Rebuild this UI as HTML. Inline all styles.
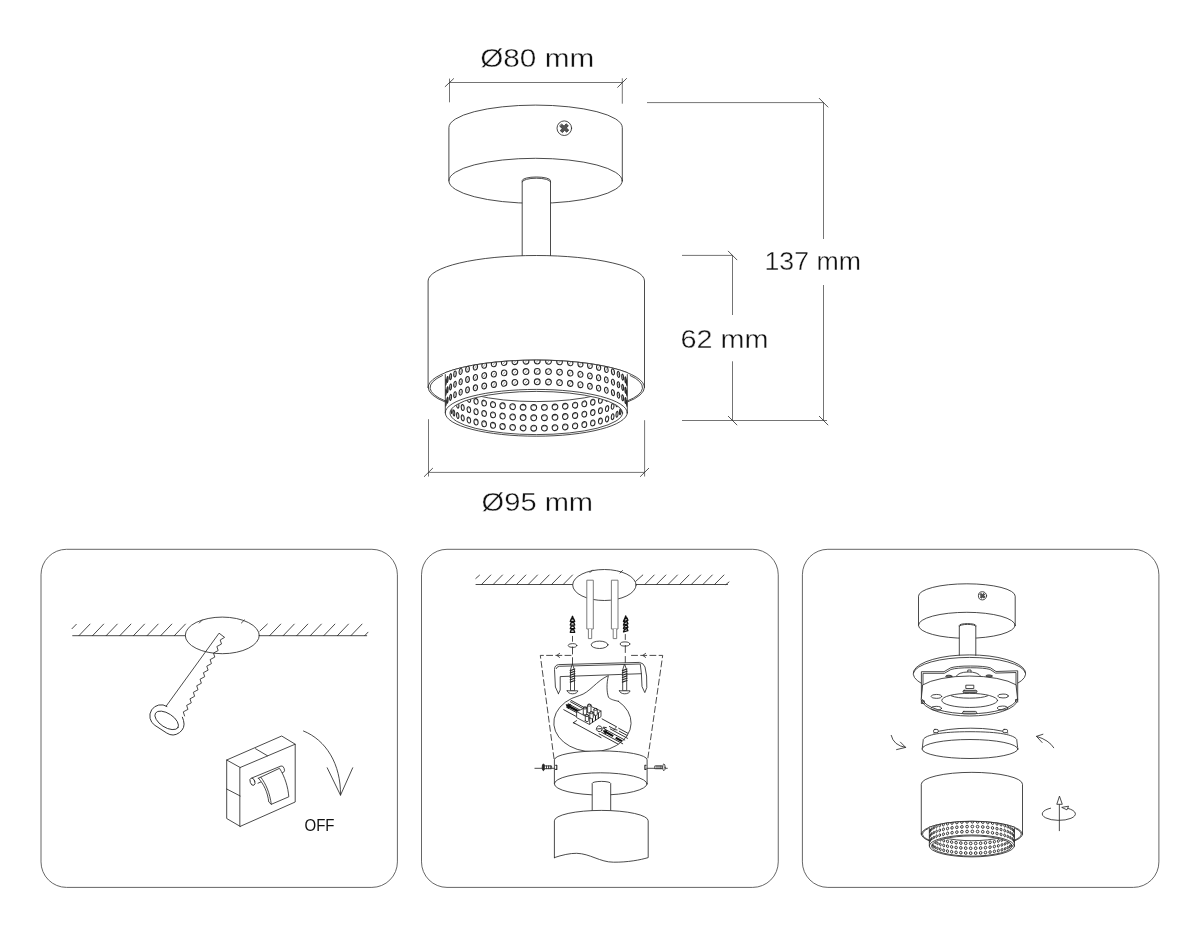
<!DOCTYPE html>
<html><head><meta charset="utf-8"><title>Lamp dimensions and installation</title>
<style>
html,body{margin:0;padding:0;background:#fff}
text{filter:grayscale(1)}
svg{display:block}
.l{fill:none;stroke:#2a2a2a;stroke-width:.85;stroke-linecap:round;stroke-linejoin:round}
.w{fill:#fff}
.h{fill:none;stroke:#2a2a2a}
.h circle{vector-effect:non-scaling-stroke}
.m{fill:none;stroke:#555;stroke-width:.5}
.k{fill:none;stroke:#111;stroke-width:1.35;stroke-linejoin:round}
.g{fill:#fff;stroke:#6e6e6e;stroke-width:.9}
.tk{fill:none;stroke:#2a2a2a;stroke-width:.8}
.d{fill:none;stroke:#505050;stroke-width:.8}
.p{fill:none;stroke:#555;stroke-width:.9}
.t{font-family:"Liberation Sans",sans-serif;fill:#111;stroke:#fff;stroke-width:.35}
.t2{font-family:"Liberation Sans",sans-serif;fill:#111}
</style></head><body>
<svg width="1200" height="933" viewBox="0 0 1200 933">
<rect width="1200" height="933" fill="#fff"/>
<path class="l w" d="M448.9,180.8L448.9,127.6A86.7,22.5 0 0 1 622.3,127.6L622.3,180.8"/>
<ellipse class="l" cx="535.6" cy="180.8" rx="86.7" ry="22.5"/>
<path class="l w" d="M522.2,255.6L522.2,180.6A14.15,3.6 0 0 1 550.5,180.6L550.5,255.6"/>
<path class="l" d="M522.2,181.8A14.15,3.6 0 0 1 550.5,181.8"/>
<circle class="l w" cx="564.3" cy="128.2" r="7.3"/>
<g transform="translate(564.3,128.2) rotate(40)"><path class="l" style="stroke-width:.7;fill:#555" d="M-4.53,-1.46L-1.46,-1.46L-1.46,-4.53L1.46,-4.53L1.46,-1.46L4.53,-1.46L4.53,1.46L1.46,1.46L1.46,4.53L-1.46,4.53L-1.46,1.46L-4.53,1.46Z"/></g>
<path class="l w" d="M428.1,387.3L428.1,281A108.2,25.5 0 0 1 644.5,281L644.5,387.3"/>
<path class="l" d="M428.1,387.3A108.2,27.3 0 0 1 644.5,387.3"/>
<path class="l" d="M428.1,387.3A108.2,27.3 0 0 0 445.3,402.07M644.5,387.3A108.2,27.3 0 0 1 627.3,402.07"/>
<path class="l" d="M442.43,375.5A106.4,25.7 0 0 0 445.3,400.92M630.17,375.5A106.4,25.7 0 0 1 627.3,400.92"/>
<path d="M445.3,372.53A108.2,27.3 0 0 1 627.3,372.53L627.3,412.8A91,23.4 0 0 1 445.3,412.8Z" fill="#fff" stroke="none"/>
<path class="l" d="M445.3,372.53A108.2,27.3 0 0 1 627.3,372.53"/>
<path class="l" d="M445.3,374.53L445.3,412.8"/>
<path class="l" d="M627.3,374.53L627.3,412.8"/>
<ellipse class="l" cx="536.3" cy="412.8" rx="91" ry="23.4"/>
<ellipse class="l" cx="536.3" cy="413" rx="86.3" ry="21.6"/>
<clipPath id="cau"><path d="M445.3,372.53A108.2,27.3 0 0 1 627.3,372.53L627.3,412.8A91,23.4 0 0 0 445.3,412.8Z"/></clipPath>
<clipPath id="cai"><ellipse cx="536.3" cy="413" rx="85.9" ry="21.2"/></clipPath>
<clipPath id="cas"><path d="M448,380A86.3,21.6 0 0 0 622.6,380L624.6,380L624.6,439.6L448,439.6Z"/></clipPath>
<g clip-path="url(#cai)">
<path class="l" d="M450,380A86.3,21.6 0 0 0 622.6,380"/>
</g>
<g clip-path="url(#cau)" class="h" style="stroke-width:1.1">
<circle r="2.9" transform="matrix(0.22,-0.26,0,1,445.7,382.3)"/>
<circle r="2.9" transform="matrix(0.22,-0.25,0,1,447.46,379.44)"/>
<circle r="2.9" transform="matrix(0.34,-0.24,0,1,450.57,376.65)"/>
<path class="m" d="M450.14,378.25L451.06,375.2"/>
<circle r="2.9" transform="matrix(0.45,-0.23,0,1,455,373.99)"/>
<path class="m" d="M454.42,375.58L455.65,372.54"/>
<circle r="2.9" transform="matrix(0.56,-0.21,0,1,460.68,371.48)"/>
<path class="m" d="M459.95,373.08L461.49,370.03"/>
<circle r="2.9" transform="matrix(0.65,-0.19,0,1,467.52,369.18)"/>
<path class="m" d="M466.66,370.77L468.47,367.73"/>
<circle r="2.9" transform="matrix(0.74,-0.17,0,1,475.41,367.11)"/>
<path class="m" d="M474.44,368.71L476.49,365.66"/>
<circle r="2.9" transform="matrix(0.82,-0.15,0,1,484.23,365.31)"/>
<path class="m" d="M483.16,366.9L485.42,363.86"/>
<circle r="2.9" transform="matrix(0.88,-0.12,0,1,493.86,363.8)"/>
<path class="m" d="M492.7,365.4L495.14,362.35"/>
<circle r="2.9" transform="matrix(0.94,-0.09,0,1,504.13,362.61)"/>
<path class="m" d="M502.91,364.21L505.49,361.16"/>
<circle r="2.9" transform="matrix(0.97,-0.06,0,1,514.9,361.76)"/>
<path class="m" d="M513.63,363.35L516.31,360.31"/>
<circle r="2.9" transform="matrix(0.99,-0.03,0,1,526,361.25)"/>
<path class="m" d="M524.7,362.85L527.44,359.8"/>
<circle r="2.9" transform="matrix(1,0,0,1,537.25,361.1)"/>
<path class="m" d="M535.95,362.7L538.7,359.65"/>
<circle r="2.9" transform="matrix(0.99,0.03,0,1,548.49,361.31)"/>
<path class="m" d="M547.2,362.91L549.93,359.86"/>
<circle r="2.9" transform="matrix(0.97,0.07,0,1,559.55,361.88)"/>
<path class="m" d="M558.28,363.47L560.95,360.43"/>
<circle r="2.9" transform="matrix(0.93,0.1,0,1,570.24,362.79)"/>
<path class="m" d="M569.03,364.38L571.59,361.34"/>
<circle r="2.9" transform="matrix(0.87,0.12,0,1,580.42,364.03)"/>
<path class="m" d="M579.28,365.63L581.69,362.58"/>
<circle r="2.9" transform="matrix(0.81,0.15,0,1,589.92,365.59)"/>
<path class="m" d="M588.86,367.19L591.09,364.14"/>
<circle r="2.9" transform="matrix(0.73,0.18,0,1,598.59,367.44)"/>
<path class="m" d="M597.64,369.04L599.65,365.99"/>
<circle r="2.9" transform="matrix(0.64,0.2,0,1,606.32,369.55)"/>
<path class="m" d="M605.48,371.15L607.24,368.1"/>
<circle r="2.9" transform="matrix(0.54,0.22,0,1,612.96,371.89)"/>
<path class="m" d="M612.26,373.49L613.74,370.44"/>
<circle r="2.9" transform="matrix(0.43,0.23,0,1,618.44,374.43)"/>
<path class="m" d="M617.87,376.02L619.06,372.98"/>
<circle r="2.9" transform="matrix(0.32,0.24,0,1,622.65,377.11)"/>
<path class="m" d="M622.24,378.71L623.11,375.66"/>
<circle r="2.9" transform="matrix(0.22,0.25,0,1,625.54,379.91)"/>
<circle r="2.9" transform="matrix(0.22,0.26,0,1,627.06,382.79)"/>
<circle r="2.9" transform="matrix(0.22,-0.26,0,1,445.7,392.6)"/>
<circle r="2.9" transform="matrix(0.22,-0.25,0,1,447.46,389.74)"/>
<circle r="2.9" transform="matrix(0.34,-0.24,0,1,450.57,386.95)"/>
<path class="m" d="M450.14,388.55L451.06,385.5"/>
<circle r="2.9" transform="matrix(0.45,-0.23,0,1,455,384.29)"/>
<path class="m" d="M454.42,385.88L455.65,382.84"/>
<circle r="2.9" transform="matrix(0.56,-0.21,0,1,460.68,381.78)"/>
<path class="m" d="M459.95,383.38L461.49,380.33"/>
<circle r="2.9" transform="matrix(0.65,-0.19,0,1,467.52,379.48)"/>
<path class="m" d="M466.66,381.07L468.47,378.03"/>
<circle r="2.9" transform="matrix(0.74,-0.17,0,1,475.41,377.41)"/>
<path class="m" d="M474.44,379.01L476.49,375.96"/>
<circle r="2.9" transform="matrix(0.82,-0.15,0,1,484.23,375.61)"/>
<path class="m" d="M483.16,377.2L485.42,374.16"/>
<circle r="2.9" transform="matrix(0.88,-0.12,0,1,493.86,374.1)"/>
<path class="m" d="M492.7,375.7L495.14,372.65"/>
<circle r="2.9" transform="matrix(0.94,-0.09,0,1,504.13,372.91)"/>
<path class="m" d="M502.91,374.51L505.49,371.46"/>
<circle r="2.9" transform="matrix(0.97,-0.06,0,1,514.9,372.06)"/>
<path class="m" d="M513.63,373.65L516.31,370.61"/>
<circle r="2.9" transform="matrix(0.99,-0.03,0,1,526,371.55)"/>
<path class="m" d="M524.7,373.15L527.44,370.1"/>
<circle r="2.9" transform="matrix(1,0,0,1,537.25,371.4)"/>
<path class="m" d="M535.95,373L538.7,369.95"/>
<circle r="2.9" transform="matrix(0.99,0.03,0,1,548.49,371.61)"/>
<path class="m" d="M547.2,373.21L549.93,370.16"/>
<circle r="2.9" transform="matrix(0.97,0.07,0,1,559.55,372.18)"/>
<path class="m" d="M558.28,373.77L560.95,370.73"/>
<circle r="2.9" transform="matrix(0.93,0.1,0,1,570.24,373.09)"/>
<path class="m" d="M569.03,374.68L571.59,371.64"/>
<circle r="2.9" transform="matrix(0.87,0.12,0,1,580.42,374.33)"/>
<path class="m" d="M579.28,375.93L581.69,372.88"/>
<circle r="2.9" transform="matrix(0.81,0.15,0,1,589.92,375.89)"/>
<path class="m" d="M588.86,377.49L591.09,374.44"/>
<circle r="2.9" transform="matrix(0.73,0.18,0,1,598.59,377.74)"/>
<path class="m" d="M597.64,379.34L599.65,376.29"/>
<circle r="2.9" transform="matrix(0.64,0.2,0,1,606.32,379.85)"/>
<path class="m" d="M605.48,381.45L607.24,378.4"/>
<circle r="2.9" transform="matrix(0.54,0.22,0,1,612.96,382.19)"/>
<path class="m" d="M612.26,383.79L613.74,380.74"/>
<circle r="2.9" transform="matrix(0.43,0.23,0,1,618.44,384.73)"/>
<path class="m" d="M617.87,386.32L619.06,383.28"/>
<circle r="2.9" transform="matrix(0.32,0.24,0,1,622.65,387.41)"/>
<path class="m" d="M622.24,389.01L623.11,385.96"/>
<circle r="2.9" transform="matrix(0.22,0.25,0,1,625.54,390.21)"/>
<circle r="2.9" transform="matrix(0.22,0.26,0,1,627.06,393.09)"/>
<circle r="2.9" transform="matrix(0.22,-0.26,0,1,445.7,403)"/>
<circle r="2.9" transform="matrix(0.22,-0.25,0,1,447.46,400.14)"/>
<circle r="2.9" transform="matrix(0.34,-0.24,0,1,450.57,397.35)"/>
<path class="m" d="M450.14,398.95L451.06,395.9"/>
<circle r="2.9" transform="matrix(0.45,-0.23,0,1,455,394.69)"/>
<path class="m" d="M454.42,396.28L455.65,393.24"/>
<circle r="2.9" transform="matrix(0.56,-0.21,0,1,460.68,392.18)"/>
<path class="m" d="M459.95,393.78L461.49,390.73"/>
<circle r="2.9" transform="matrix(0.65,-0.19,0,1,467.52,389.88)"/>
<path class="m" d="M466.66,391.47L468.47,388.43"/>
<circle r="2.9" transform="matrix(0.74,-0.17,0,1,475.41,387.81)"/>
<path class="m" d="M474.44,389.41L476.49,386.36"/>
<circle r="2.9" transform="matrix(0.82,-0.15,0,1,484.23,386.01)"/>
<path class="m" d="M483.16,387.6L485.42,384.56"/>
<circle r="2.9" transform="matrix(0.88,-0.12,0,1,493.86,384.5)"/>
<path class="m" d="M492.7,386.1L495.14,383.05"/>
<circle r="2.9" transform="matrix(0.94,-0.09,0,1,504.13,383.31)"/>
<path class="m" d="M502.91,384.91L505.49,381.86"/>
<circle r="2.9" transform="matrix(0.97,-0.06,0,1,514.9,382.46)"/>
<path class="m" d="M513.63,384.05L516.31,381.01"/>
<circle r="2.9" transform="matrix(0.99,-0.03,0,1,526,381.95)"/>
<path class="m" d="M524.7,383.55L527.44,380.5"/>
<circle r="2.9" transform="matrix(1,0,0,1,537.25,381.8)"/>
<path class="m" d="M535.95,383.4L538.7,380.35"/>
<circle r="2.9" transform="matrix(0.99,0.03,0,1,548.49,382.01)"/>
<path class="m" d="M547.2,383.61L549.93,380.56"/>
<circle r="2.9" transform="matrix(0.97,0.07,0,1,559.55,382.58)"/>
<path class="m" d="M558.28,384.17L560.95,381.13"/>
<circle r="2.9" transform="matrix(0.93,0.1,0,1,570.24,383.49)"/>
<path class="m" d="M569.03,385.08L571.59,382.04"/>
<circle r="2.9" transform="matrix(0.87,0.12,0,1,580.42,384.73)"/>
<path class="m" d="M579.28,386.33L581.69,383.28"/>
<circle r="2.9" transform="matrix(0.81,0.15,0,1,589.92,386.29)"/>
<path class="m" d="M588.86,387.89L591.09,384.84"/>
<circle r="2.9" transform="matrix(0.73,0.18,0,1,598.59,388.14)"/>
<path class="m" d="M597.64,389.74L599.65,386.69"/>
<circle r="2.9" transform="matrix(0.64,0.2,0,1,606.32,390.25)"/>
<path class="m" d="M605.48,391.85L607.24,388.8"/>
<circle r="2.9" transform="matrix(0.54,0.22,0,1,612.96,392.59)"/>
<path class="m" d="M612.26,394.19L613.74,391.14"/>
<circle r="2.9" transform="matrix(0.43,0.23,0,1,618.44,395.13)"/>
<path class="m" d="M617.87,396.72L619.06,393.68"/>
<circle r="2.9" transform="matrix(0.32,0.24,0,1,622.65,397.81)"/>
<path class="m" d="M622.24,399.41L623.11,396.36"/>
<circle r="2.9" transform="matrix(0.22,0.25,0,1,625.54,400.61)"/>
<circle r="2.9" transform="matrix(0.22,0.26,0,1,627.06,403.49)"/>
</g>
<g clip-path="url(#cai)"><g clip-path="url(#cas)" class="h" style="stroke-width:1.1">
<circle r="2.9" transform="matrix(0.22,0.25,0,1,450.13,387.07)"/>
<circle r="2.9" transform="matrix(0.22,0.25,0,1,451.36,389.73)"/>
<circle r="2.9" transform="matrix(0.3,0.24,0,1,453.9,392.32)"/>
<path class="m" d="M453.39,391.45A0.6,2.03 0 0 1 454.34,391.02"/>
<circle r="2.9" transform="matrix(0.41,0.23,0,1,457.71,394.82)"/>
<path class="m" d="M456.99,393.95A0.84,2.03 0 0 1 458.31,393.52"/>
<circle r="2.9" transform="matrix(0.52,0.21,0,1,462.72,397.19)"/>
<path class="m" d="M461.81,396.32A1.06,2.03 0 0 1 463.47,395.88"/>
<circle r="2.9" transform="matrix(0.62,0.2,0,1,468.85,399.38)"/>
<path class="m" d="M467.77,398.51A1.27,2.03 0 0 1 469.76,398.07"/>
<circle r="2.9" transform="matrix(0.72,0.17,0,1,476.03,401.36)"/>
<path class="m" d="M474.78,400.49A1.45,2.03 0 0 1 477.06,400.05"/>
<circle r="2.9" transform="matrix(0.8,0.15,0,1,484.12,403.11)"/>
<path class="m" d="M482.74,402.24A1.62,2.03 0 0 1 485.28,401.8"/>
<circle r="2.9" transform="matrix(0.87,0.13,0,1,493.02,404.59)"/>
<path class="m" d="M491.51,403.72A1.76,2.03 0 0 1 494.27,403.28"/>
<circle r="2.9" transform="matrix(0.92,0.1,0,1,502.58,405.78)"/>
<path class="m" d="M500.98,404.91A1.87,2.03 0 0 1 503.91,404.48"/>
<circle r="2.9" transform="matrix(0.96,0.07,0,1,512.66,406.67)"/>
<path class="m" d="M510.98,405.8A1.95,2.03 0 0 1 514.05,405.37"/>
<circle r="2.9" transform="matrix(0.99,0.04,0,1,523.1,407.25)"/>
<path class="m" d="M521.38,406.38A2.01,2.03 0 0 1 524.53,405.94"/>
<circle r="2.9" transform="matrix(1,0.01,0,1,533.74,407.49)"/>
<path class="m" d="M532,406.62A2.03,2.03 0 0 1 535.19,406.19"/>
<circle r="2.9" transform="matrix(1,-0.02,0,1,544.42,407.4)"/>
<path class="m" d="M542.69,406.53A2.02,2.03 0 0 1 545.87,406.1"/>
<circle r="2.9" transform="matrix(0.98,-0.05,0,1,554.98,406.99)"/>
<path class="m" d="M553.28,406.12A1.98,2.03 0 0 1 556.39,405.68"/>
<circle r="2.9" transform="matrix(0.94,-0.08,0,1,565.25,406.25)"/>
<path class="m" d="M563.61,405.38A1.91,2.03 0 0 1 566.62,404.94"/>
<circle r="2.9" transform="matrix(0.89,-0.11,0,1,575.08,405.2)"/>
<path class="m" d="M573.52,404.33A1.81,2.03 0 0 1 576.37,403.89"/>
<circle r="2.9" transform="matrix(0.83,-0.14,0,1,584.31,403.85)"/>
<path class="m" d="M582.86,402.98A1.69,2.03 0 0 1 585.51,402.54"/>
<circle r="2.9" transform="matrix(0.76,-0.16,0,1,592.8,402.23)"/>
<path class="m" d="M591.49,401.36A1.53,2.03 0 0 1 593.9,400.92"/>
<circle r="2.9" transform="matrix(0.67,-0.19,0,1,600.43,400.35)"/>
<path class="m" d="M599.27,399.48A1.36,2.03 0 0 1 601.4,399.05"/>
<circle r="2.9" transform="matrix(0.57,-0.21,0,1,607.08,398.26)"/>
<path class="m" d="M606.08,397.39A1.16,2.03 0 0 1 607.91,396.95"/>
<circle r="2.9" transform="matrix(0.47,-0.22,0,1,612.64,395.97)"/>
<path class="m" d="M611.83,395.1A0.95,2.03 0 0 1 613.32,394.67"/>
<circle r="2.9" transform="matrix(0.35,-0.23,0,1,617.03,393.54)"/>
<path class="m" d="M616.41,392.67A0.72,2.03 0 0 1 617.54,392.23"/>
<circle r="2.9" transform="matrix(0.24,-0.24,0,1,620.18,390.98)"/>
<circle r="2.9" transform="matrix(0.22,-0.25,0,1,622.05,388.35)"/>
<circle r="2.9" transform="matrix(0.22,0.25,0,1,450.13,397.37)"/>
<circle r="2.9" transform="matrix(0.22,0.25,0,1,451.36,400.03)"/>
<circle r="2.9" transform="matrix(0.3,0.24,0,1,453.9,402.62)"/>
<path class="m" d="M453.39,401.75A0.6,2.03 0 0 1 454.34,401.32"/>
<circle r="2.9" transform="matrix(0.41,0.23,0,1,457.71,405.12)"/>
<path class="m" d="M456.99,404.25A0.84,2.03 0 0 1 458.31,403.82"/>
<circle r="2.9" transform="matrix(0.52,0.21,0,1,462.72,407.49)"/>
<path class="m" d="M461.81,406.62A1.06,2.03 0 0 1 463.47,406.18"/>
<circle r="2.9" transform="matrix(0.62,0.2,0,1,468.85,409.68)"/>
<path class="m" d="M467.77,408.81A1.27,2.03 0 0 1 469.76,408.37"/>
<circle r="2.9" transform="matrix(0.72,0.17,0,1,476.03,411.66)"/>
<path class="m" d="M474.78,410.79A1.45,2.03 0 0 1 477.06,410.35"/>
<circle r="2.9" transform="matrix(0.8,0.15,0,1,484.12,413.41)"/>
<path class="m" d="M482.74,412.54A1.62,2.03 0 0 1 485.28,412.1"/>
<circle r="2.9" transform="matrix(0.87,0.13,0,1,493.02,414.89)"/>
<path class="m" d="M491.51,414.02A1.76,2.03 0 0 1 494.27,413.58"/>
<circle r="2.9" transform="matrix(0.92,0.1,0,1,502.58,416.08)"/>
<path class="m" d="M500.98,415.21A1.87,2.03 0 0 1 503.91,414.78"/>
<circle r="2.9" transform="matrix(0.96,0.07,0,1,512.66,416.97)"/>
<path class="m" d="M510.98,416.1A1.95,2.03 0 0 1 514.05,415.67"/>
<circle r="2.9" transform="matrix(0.99,0.04,0,1,523.1,417.55)"/>
<path class="m" d="M521.38,416.68A2.01,2.03 0 0 1 524.53,416.24"/>
<circle r="2.9" transform="matrix(1,0.01,0,1,533.74,417.79)"/>
<path class="m" d="M532,416.92A2.03,2.03 0 0 1 535.19,416.49"/>
<circle r="2.9" transform="matrix(1,-0.02,0,1,544.42,417.7)"/>
<path class="m" d="M542.69,416.83A2.02,2.03 0 0 1 545.87,416.4"/>
<circle r="2.9" transform="matrix(0.98,-0.05,0,1,554.98,417.29)"/>
<path class="m" d="M553.28,416.42A1.98,2.03 0 0 1 556.39,415.98"/>
<circle r="2.9" transform="matrix(0.94,-0.08,0,1,565.25,416.55)"/>
<path class="m" d="M563.61,415.68A1.91,2.03 0 0 1 566.62,415.24"/>
<circle r="2.9" transform="matrix(0.89,-0.11,0,1,575.08,415.5)"/>
<path class="m" d="M573.52,414.63A1.81,2.03 0 0 1 576.37,414.19"/>
<circle r="2.9" transform="matrix(0.83,-0.14,0,1,584.31,414.15)"/>
<path class="m" d="M582.86,413.28A1.69,2.03 0 0 1 585.51,412.84"/>
<circle r="2.9" transform="matrix(0.76,-0.16,0,1,592.8,412.53)"/>
<path class="m" d="M591.49,411.66A1.53,2.03 0 0 1 593.9,411.22"/>
<circle r="2.9" transform="matrix(0.67,-0.19,0,1,600.43,410.65)"/>
<path class="m" d="M599.27,409.78A1.36,2.03 0 0 1 601.4,409.35"/>
<circle r="2.9" transform="matrix(0.57,-0.21,0,1,607.08,408.56)"/>
<path class="m" d="M606.08,407.69A1.16,2.03 0 0 1 607.91,407.25"/>
<circle r="2.9" transform="matrix(0.47,-0.22,0,1,612.64,406.27)"/>
<path class="m" d="M611.83,405.4A0.95,2.03 0 0 1 613.32,404.97"/>
<circle r="2.9" transform="matrix(0.35,-0.23,0,1,617.03,403.84)"/>
<path class="m" d="M616.41,402.97A0.72,2.03 0 0 1 617.54,402.53"/>
<circle r="2.9" transform="matrix(0.24,-0.24,0,1,620.18,401.28)"/>
<circle r="2.9" transform="matrix(0.22,-0.25,0,1,622.05,398.65)"/>
<circle r="2.9" transform="matrix(0.22,0.25,0,1,450.13,407.77)"/>
<circle r="2.9" transform="matrix(0.22,0.25,0,1,451.36,410.43)"/>
<circle r="2.9" transform="matrix(0.3,0.24,0,1,453.9,413.02)"/>
<path class="m" d="M453.39,412.15A0.6,2.03 0 0 1 454.34,411.72"/>
<circle r="2.9" transform="matrix(0.41,0.23,0,1,457.71,415.52)"/>
<path class="m" d="M456.99,414.65A0.84,2.03 0 0 1 458.31,414.22"/>
<circle r="2.9" transform="matrix(0.52,0.21,0,1,462.72,417.89)"/>
<path class="m" d="M461.81,417.02A1.06,2.03 0 0 1 463.47,416.58"/>
<circle r="2.9" transform="matrix(0.62,0.2,0,1,468.85,420.08)"/>
<path class="m" d="M467.77,419.21A1.27,2.03 0 0 1 469.76,418.77"/>
<circle r="2.9" transform="matrix(0.72,0.17,0,1,476.03,422.06)"/>
<path class="m" d="M474.78,421.19A1.45,2.03 0 0 1 477.06,420.75"/>
<circle r="2.9" transform="matrix(0.8,0.15,0,1,484.12,423.81)"/>
<path class="m" d="M482.74,422.94A1.62,2.03 0 0 1 485.28,422.5"/>
<circle r="2.9" transform="matrix(0.87,0.13,0,1,493.02,425.29)"/>
<path class="m" d="M491.51,424.42A1.76,2.03 0 0 1 494.27,423.98"/>
<circle r="2.9" transform="matrix(0.92,0.1,0,1,502.58,426.48)"/>
<path class="m" d="M500.98,425.61A1.87,2.03 0 0 1 503.91,425.18"/>
<circle r="2.9" transform="matrix(0.96,0.07,0,1,512.66,427.37)"/>
<path class="m" d="M510.98,426.5A1.95,2.03 0 0 1 514.05,426.07"/>
<circle r="2.9" transform="matrix(0.99,0.04,0,1,523.1,427.95)"/>
<path class="m" d="M521.38,427.08A2.01,2.03 0 0 1 524.53,426.64"/>
<circle r="2.9" transform="matrix(1,0.01,0,1,533.74,428.19)"/>
<path class="m" d="M532,427.32A2.03,2.03 0 0 1 535.19,426.89"/>
<circle r="2.9" transform="matrix(1,-0.02,0,1,544.42,428.1)"/>
<path class="m" d="M542.69,427.23A2.02,2.03 0 0 1 545.87,426.8"/>
<circle r="2.9" transform="matrix(0.98,-0.05,0,1,554.98,427.69)"/>
<path class="m" d="M553.28,426.82A1.98,2.03 0 0 1 556.39,426.38"/>
<circle r="2.9" transform="matrix(0.94,-0.08,0,1,565.25,426.95)"/>
<path class="m" d="M563.61,426.08A1.91,2.03 0 0 1 566.62,425.64"/>
<circle r="2.9" transform="matrix(0.89,-0.11,0,1,575.08,425.9)"/>
<path class="m" d="M573.52,425.03A1.81,2.03 0 0 1 576.37,424.59"/>
<circle r="2.9" transform="matrix(0.83,-0.14,0,1,584.31,424.55)"/>
<path class="m" d="M582.86,423.68A1.69,2.03 0 0 1 585.51,423.24"/>
<circle r="2.9" transform="matrix(0.76,-0.16,0,1,592.8,422.93)"/>
<path class="m" d="M591.49,422.06A1.53,2.03 0 0 1 593.9,421.62"/>
<circle r="2.9" transform="matrix(0.67,-0.19,0,1,600.43,421.05)"/>
<path class="m" d="M599.27,420.18A1.36,2.03 0 0 1 601.4,419.75"/>
<circle r="2.9" transform="matrix(0.57,-0.21,0,1,607.08,418.96)"/>
<path class="m" d="M606.08,418.09A1.16,2.03 0 0 1 607.91,417.65"/>
<circle r="2.9" transform="matrix(0.47,-0.22,0,1,612.64,416.67)"/>
<path class="m" d="M611.83,415.8A0.95,2.03 0 0 1 613.32,415.37"/>
<circle r="2.9" transform="matrix(0.35,-0.23,0,1,617.03,414.24)"/>
<path class="m" d="M616.41,413.37A0.72,2.03 0 0 1 617.54,412.93"/>
<circle r="2.9" transform="matrix(0.24,-0.24,0,1,620.18,411.68)"/>
<circle r="2.9" transform="matrix(0.22,-0.25,0,1,622.05,409.05)"/>
</g></g>
<path class="d" d="M449.5,78.6L449.5,102.3M622.3,78.3L622.3,103.7M449.5,82.5L622.3,82.5"/>
<path class="tk" d="M444.9,86.9L453.9,78.4M617.4,87.6L626.8,78.2"/>
<path class="d" d="M428.5,419.2L428.5,476.5M644.6,420.2L644.6,476.5M428.5,472.4L644.6,472.4"/>
<path class="tk" d="M424,476.8L432.9,468M640.1,476.8L649,468"/>
<path class="d" d="M647,102.6L823.5,102.6M823.5,102.6L823.5,239M823.5,285L823.5,420.5"/>
<path class="d" d="M682,255.4L732.5,255.4M732.5,255.4L732.5,315M732.5,361.3L732.5,420.5"/>
<path class="d" d="M682,420.5L827,420.5"/>
<path class="tk" d="M819,98.1L828.2,107.3M728,250.9L737.2,260.1M728,416L737.2,425.2M819,416L828.2,425.2"/>
<text class="t" x="480.2" y="67.1" font-size="25.5" textLength="114" lengthAdjust="spacingAndGlyphs">Ø80 mm</text>
<text class="t" x="481.6" y="510.9" font-size="25.5" textLength="111.5" lengthAdjust="spacingAndGlyphs">Ø95 mm</text>
<text class="t" x="764.5" y="269.7" font-size="25.5" textLength="96.5" lengthAdjust="spacingAndGlyphs">137 mm</text>
<text class="t" x="680.4" y="347.9" font-size="25.5" textLength="88" lengthAdjust="spacingAndGlyphs">62 mm</text>
<rect class="p" x="41" y="549.3" width="356.4" height="338.1" rx="25.5" ry="25.5"/>
<rect class="p" x="421.5" y="549.3" width="356.75" height="338.1" rx="25.5" ry="25.5"/>
<rect class="p" x="802.4" y="549.3" width="356.5" height="338.1" rx="25.5" ry="25.5"/>
<path class="l" d="M72.7,635.7L185.3,635.7"/>
<path class="l" d="M259.7,635.7L366.7,635.7"/>
<path class="l" d="M78.9,635.7L90,624.1M92.53,635.7L103.63,624.1M106.16,635.7L117.26,624.1M119.79,635.7L130.89,624.1M133.42,635.7L144.52,624.1M147.05,635.7L158.15,624.1M160.68,635.7L171.78,624.1M174.31,635.7L185.41,624.1"/>
<path class="l" d="M72,628.7L76.3,624.3"/>
<path class="l" d="M269.6,635.7L280.7,624.1M283.15,635.7L294.25,624.1M296.7,635.7L307.8,624.1M310.25,635.7L321.35,624.1M323.8,635.7L334.9,624.1M337.35,635.7L348.45,624.1M350.9,635.7L362,624.1"/>
<path class="l" d="M259.9,631L267.3,624.1M364.7,635.7L368,632.2"/>
<ellipse class="l" cx="222.3" cy="635.4" rx="37" ry="18.3"/>
<path class="l" d="M199.3,623L202.3,620M241.4,623L244.4,620"/>
<path class="l" d="M166.35,705.9L219.05,633.2L224.6,637.35L220.21,639.98L221.51,644.02L216.86,646.52L218.15,650.56L213.5,653.05L214.79,657.1L210.14,659.59L211.43,663.64L206.78,666.13L208.08,670.17L203.42,672.67L204.72,676.71L200.06,679.2L201.36,683.25L196.71,685.74L198,689.79L193.35,692.28L194.64,696.32L189.99,698.82L191.28,702.86L186.63,705.35L187.93,709.4L183.27,711.89L184.57,715.94" style="stroke-linejoin:miter"/>
<g transform="translate(166.9,719.8) rotate(33)">
<path class="l" d="M-7.4,-11.2L-7,-11.2A11.2,11.2 0 0 0 -7,11.2L7,11.2A11.2,11.2 0 0 0 14.4,-8.4L11.6,-10.6"/>
<ellipse class="l" cx="0.2" cy="0.6" rx="13.4" ry="6.9"/>
</g>
<path class="l" d="M240.2,767.5L226.7,760L281.7,736L295.2,744.2"/>
<path class="l" d="M226.7,760L226.7,818.5L240.2,826.4"/>
<path class="l" d="M240.2,767.5L295.2,744.2L295.2,802L240.2,826.4Z"/>
<path class="l" d="M255.5,748.7L267.5,755.8M226.7,789L240.2,796"/>
<path class="l w" d="M251.8,778L281,766A2.2,3.4 -20 0 1 283.5,772.3L258,783.2"/>
<ellipse class="l w" cx="252.5" cy="781.7" rx="2.3" ry="3.8" transform="rotate(-20 252.5 781.7)"/>
<path class="l w" d="M258.5,778.2L279.5,768.3C285,777 288,787 288.8,796.8L271.3,804.3L268.8,802C267.5,792 264,784.5 258.5,778.2Z"/>
<path class="l" d="M260.8,777.2C266,784 269.8,793 271.3,804.3"/>
<path class="l" d="M303.5,731C326,740 341,764 340.5,795.2"/>
<path class="l" d="M327.2,767.8L340.5,795.2L352.7,767.8"/>
<text class="t2" x="304.5" y="831.2" font-size="16.6" textLength="30" lengthAdjust="spacingAndGlyphs">OFF</text>
<path class="l" d="M476,584.5L572.6,584.5"/>
<path class="l" d="M636.3,584.5L727.5,584.5"/>
<path class="l" d="M481.5,584.5L490.8,575M493.17,584.5L502.47,575M504.84,584.5L514.14,575M516.51,584.5L525.81,575M528.18,584.5L537.48,575M539.85,584.5L549.15,575M551.52,584.5L560.82,575M563.19,584.5L572.49,575"/>
<path class="l" d="M475.8,578.5L479.5,575.2"/>
<path class="l" d="M644.8,584.5L654.2,575M656.42,584.5L665.82,575M668.04,584.5L677.44,575M679.66,584.5L689.06,575M691.28,584.5L700.68,575M702.9,584.5L712.3,575M714.52,584.5L723.92,575"/>
<path class="l" d="M635.5,581.5L642.8,575M726,584.5L729,582"/>
<ellipse class="l w" cx="604.4" cy="585" rx="31.7" ry="15.5"/>
<path class="l" d="M590,572.5L592.5,570M620,573L622.5,570.5"/>
<path class="g" d="M586.8,580.2L593.3,580.2L593.3,629L586.8,629Z"/>
<path class="g" d="M588.4,629L588.4,638.6L591.7,638.6L591.7,629"/>
<path class="g" d="M611.4,580.2L618,580.2L618,629L611.4,629Z"/>
<path class="g" d="M613.2,629L613.2,638.6L616.7,638.6L616.7,629"/>
<path class="k" d="M571.4,619.5L572.5,616.3L573.6,619.5"/>
<path class="k" d="M571.2,618.9L573.8,618.9L574.7,621.42L570.3,621.42Z"/>
<path class="k" d="M571.2,622.52L573.8,622.52L574.7,625.05L570.3,625.05Z"/>
<path class="k" d="M571.2,626.15L573.8,626.15L574.7,628.67L570.3,628.67Z"/>
<path class="k" d="M571.2,629.77L573.8,629.77L574.7,632.3L570.3,632.3Z"/>
<path class="k" d="M624.6,619.2L625.7,616L626.8,619.2"/>
<path class="k" d="M624.4,619.2L627,618L627.9,620.35L623.5,621.55Z"/>
<path class="k" d="M624.4,622.65L627,621.45L627.9,623.8L623.5,625Z"/>
<path class="k" d="M624.4,626.1L627,624.9L627.9,627.25L623.5,628.45Z"/>
<path class="k" d="M624.4,629.55L627,628.35L627.9,630.7L623.5,631.9Z"/>
<path class="l" d="M572.5,636.3L572.5,641.3M572.5,647L572.5,654M572.5,657.7L572.5,664M625.3,634.5L625.3,639.5M625.3,645.5L625.3,652.5M625.3,656.5L625.3,663.5"/>
<ellipse class="l" cx="572.5" cy="645.5" rx="4.3" ry="1.9"/>
<ellipse class="l" cx="625" cy="644" rx="4.8" ry="2.1"/>
<ellipse class="l w" cx="599.6" cy="644.8" rx="8.4" ry="3.7"/>
<path class="l" d="M571,655.4L540.3,655.4L554.2,760" stroke-dasharray="6 3.2"/>
<path class="l" d="M631.5,655.4L662.7,655.4L647.6,760" stroke-dasharray="6 3.2"/>
<path class="l" d="M559.6,653.4L556.8,655.4L559.6,657.4M645.6,653.4L642.8,655.4L645.6,657.4"/>
<path class="l w" d="M558.4,693.6L555.4,687L554.5,669.5Q554.6,665 558.8,664.6L639.5,662.4Q643.5,663 645,667L646.6,676L646.8,687.5L644.8,692.6L642,686.5L641.4,673.7L560.2,676.6L560.2,690L558.4,693.6Z"/>
<path class="l" d="M556.3,668.5Q556.6,666.5 559.5,666.3L640,664"/>
<path class="l" d="M641.4,673.7L640.3,664.5"/>
<path class="l w" d="M572.5,664.4L574.5,670L574.5,690.8L570.5,690.8L570.5,670Z"/>
<path class="l" d="M570.2,670.6L574.8,669M570.2,672.9L574.8,671.3M570.2,675.2L574.8,673.6M570.2,677.5L574.8,675.9M570.2,679.8L574.8,678.2M570.2,682.1L574.8,680.5" style="stroke-width:1.2"/>
<path class="l w" d="M567.2,690.8L577.8,690.8A5.3,3 0 0 1 567.2,690.8Z"/>
<path class="l w" d="M624.7,664.4L626.7,670L626.7,690.8L622.7,690.8L622.7,670Z"/>
<path class="l" d="M622.4,670.6L627,669M622.4,672.9L627,671.3M622.4,675.2L627,673.6M622.4,677.5L627,675.9M622.4,679.8L627,678.2M622.4,682.1L627,680.5" style="stroke-width:1.2"/>
<path class="l w" d="M619.4,690.8L630,690.8A5.3,3 0 0 1 619.4,690.8Z"/>
<path class="l w" d="M618.4,701.32A38.7,28.9 0 1 1 579.26,695.64C590,692.5 596,681 608.4,675.6C606.5,683 606.5,692 608.6,697.5C611,699.5 613,700 618.4,701.32Z"/>
<g transform="translate(590,716) rotate(28.5)">
<path class="l" d="M-24,-4.7L-8,-4.7M-24,-3.2L-8,-3.2M-26,7L-12,7M-11.5,13.7L20,13.7M-25,-0.4L-9,-0.4M-25,3.4L-9,3.4"/>
<path class="k" d="M-23,1.5L-9,1.5" style="stroke-width:2.4"/>
<path class="k" d="M-26.5,1.5L-22.5,-1L-22.5,4Z" style="fill:#111;stroke-width:.6"/>
<path class="l" d="M12,-3.2L28.6,-3.2L27.6,0L22,0M24,1.7L43.6,1.7M31,-2.9L41.4,-2.9M16.5,11.3L38,11.3M18,4.5L42,4.5M18,8.8L42,8.8M33,-0.6L42,-0.6"/>
<path class="k" d="M21,6.6L30,6.6M33,6.9L40,6.9" style="stroke-width:2.2"/>
<path class="k" d="M18.6,6.6L22,4.6L22,8.6Z" style="fill:#111;stroke-width:.6"/>
<path class="l" d="M20,2.4L17,3.4L20,4.4M30.5,-0.6L27.5,0.4"/>
<circle class="l w" cx="14.3" cy="6.8" r="2.9"/>
<path class="l" d="M12.8,7.8L15.8,5.8"/>
</g>
<path class="l w" d="M576.6,717.2L576.6,711.6L589.6,705.8L601,711L601,716.6L589.7,724.2Z"/>
<path class="l" d="M589.7,724.2L589.7,718.4L576.6,711.6M589.7,718.4L601,711"/>
<path class="k" d="M592.5,722.6L592.5,716.8M595.5,720.6L595.5,714.8M598.3,718.7L598.3,713" style="stroke-width:1.1"/>
<path class="l" d="M573.3,722.7L576.6,720.6M573.3,722.7L575,723.6"/>
<path class="l w" d="M583.3,714L583.3,708A1.7,1 0 0 1 586.7,708L586.7,714A1.7,1 0 0 1 583.3,714Z"/>
<ellipse class="l" cx="585" cy="708" rx="1.7" ry="1"/>
<path class="l w" d="M587.6,712.2L587.6,705.2A1.7,1 0 0 1 591,705.2L591,712.2A1.7,1 0 0 1 587.6,712.2Z"/>
<ellipse class="l" cx="589.3" cy="705.2" rx="1.7" ry="1"/>
<path class="l w" d="M593.9,714.4L593.9,709.4A1.7,1 0 0 1 597.3,709.4L597.3,714.4A1.7,1 0 0 1 593.9,714.4Z"/>
<ellipse class="l" cx="595.6" cy="709.4" rx="1.7" ry="1"/>
<path class="l w" d="M589.8,717.7L589.8,712.7A1.7,1 0 0 1 593.2,712.7L593.2,717.7A1.7,1 0 0 1 589.8,717.7Z"/>
<ellipse class="l" cx="591.5" cy="712.7" rx="1.7" ry="1"/>
<path class="l w" d="M585.3,720.6L585.3,715.6A1.7,1 0 0 1 588.7,715.6L588.7,720.6A1.7,1 0 0 1 585.3,720.6Z"/>
<ellipse class="l" cx="587" cy="715.6" rx="1.7" ry="1"/>
<path class="l w" d="M554.4,783.5L554.4,759.8A46.35,8.9 0 0 1 647.1,759.8L647.1,783.5"/>
<ellipse class="l" cx="600.75" cy="783.9" rx="46.35" ry="11.1"/>
<path class="l" d="M534.9,768.3L554.4,768.3M646.9,768.3L667.3,768.3"/>
<ellipse class="l" cx="543.4" cy="767.3" rx="1.2" ry="3.4" style="fill:#222"/>
<rect class="l w" x="544.6" y="765.9" width="7" height="2.8"/>
<ellipse class="l" cx="663.9" cy="767.3" rx="1.2" ry="3.4" style="fill:#fff"/>
<rect class="l w" x="655.2" y="765.9" width="7" height="2.8"/>
<path class="l" d="M546.5,765.9L546.5,768.7M548.5,765.9L548.5,768.7M550.3,765.9L550.3,768.7M657,765.9L657,768.7M659,765.9L659,768.7M660.8,765.9L660.8,768.7"/>
<path class="l" d="M555.6,765.2L556.8,765.2L556.8,769.4L555.6,769.4M646,765.2L644.9,765.2L644.9,769.4L646,769.4" style="stroke-width:1.1"/>
<path class="l w" d="M592.2,810.9L592.2,783.4A9.25,2 0 0 1 610.7,783.4L610.7,810.9"/>
<path class="l w" d="M554.4,857.6L554.4,820.8A46.9,10.4 0 0 1 648.2,820.8L648.2,857.6C640,860 628,862.3 613.5,862.2C600,862.2 590,853.6 576.7,853.3C570,853.2 562,855 554.4,857.6Z"/>
<path class="l w" d="M918.5,625.3L918.5,596.2A48.35,12.4 0 0 1 1015.2,596.2L1015.2,625.3"/>
<ellipse class="l" cx="966.85" cy="625.3" rx="48.35" ry="13"/>
<path class="l w" d="M959.3,655.4L959.3,625.4A8.25,1.8 0 0 1 975.8,625.4L975.8,655.4"/>
<path class="l" d="M959.3,626.2A8.25,1.8 0 0 1 975.8,626.2"/>
<circle class="l w" cx="982.5" cy="595.8" r="4.1"/>
<g transform="translate(982.5,595.8) rotate(40)"><path class="l" style="stroke-width:.7;fill:#555" d="M-2.54,-0.82L-0.82,-0.82L-0.82,-2.54L0.82,-2.54L0.82,-0.82L2.54,-0.82L2.54,0.82L0.82,0.82L0.82,2.54L-0.82,2.54L-0.82,0.82L-2.54,0.82Z"/></g>
<path class="l" d="M921.66,683.51A56.35,18.7 0 1 1 1017.24,683.51"/>
<path class="l" d="M913.54,672.66A56.05,16.4 0 0 1 1025.36,672.66"/>
<path class="l w" d="M921.4,703.2L921.4,671.7L944,671.7L950.5,667.9A22,3.2 0 0 1 990.6,667.9L996,671.5L1017.7,670.8L1017.7,702"/>
<path class="l" d="M923,703L923,673.3L944.4,673.3L950.9,669.5A22,3.2 0 0 1 990.2,669.5L995.6,673.1L1016,672.5L1016,701"/>
<path class="l" d="M955.9,676.6A13,6.2 0 0 1 980.8,676.2"/>
<path class="l" d="M967.8,671.8L967.8,670L971,670L971,671.8"/>
<ellipse class="l" cx="948.9" cy="676.3" rx="3.2" ry="1.1" style="fill:#777"/>
<ellipse class="l" cx="989" cy="676" rx="3.2" ry="1.1" style="fill:#777"/>
<path class="l w" d="M922.9,684.8A52,15.8 0 0 1 1016,684.8L1017.7,700A48.3,17.1 0 0 1 921.3,700Z"/>
<path class="l" d="M922.5,699.6A47.3,15.4 0 0 0 1016.8,699.6"/>
<path class="l" d="M921.4,700.8L924.3,700.8L924.3,703.4L921.6,703.4"/>
<path class="l" d="M1017.6,699.2L1015.5,699.5L1015.5,701.8"/>
<ellipse class="l" cx="969.7" cy="700.4" rx="27.9" ry="7.05"/>
<path class="l" d="M951.4,695.9A20,4 0 0 0 987.5,695.9"/>
<ellipse class="l" cx="936.4" cy="696.4" rx="5.3" ry="1.95"/>
<ellipse class="l" cx="1003" cy="696" rx="5.3" ry="1.95"/>
<ellipse class="l" cx="936.2" cy="708.3" rx="5.3" ry="1.95"/>
<ellipse class="l" cx="1002.5" cy="708" rx="5.3" ry="1.95"/>
<rect class="l" x="962.6" y="711.4" width="14" height="2.4" rx="1.2" style="fill:#ccc"/>
<rect class="l" x="963" y="690.3" width="14" height="2.4" rx="1.2" style="fill:#999"/>
<rect class="l w" x="966.2" y="685.2" width="7.6" height="3.3"/>
<path class="l" d="M933.7,733A40,7.7 0 0 1 1007.9,733"/>
<rect class="l w" x="933.5" y="729.4" width="4.8" height="3.3" rx="1.4"/>
<rect class="l w" x="1002.8" y="729.4" width="4.8" height="3.3" rx="1.4"/>
<path class="l w" d="M922.2,749L923.3,739.4C926,735 940,731.7 970,731.7C1000,731.7 1014,735 1016.7,739.4L1017.8,749"/>
<ellipse class="l w" cx="970" cy="749" rx="47.9" ry="9.5"/>
<path class="l" d="M891.2,735.4Q893.5,745.5 905.6,747.4M900.4,742.1L905.6,747.4L896.6,749.6"/>
<path class="l" d="M1053.75,747.75Q1049,740 1036.5,736.35M1042.9,734.25L1036.5,736.35L1042.1,742.5"/>
<path class="l" d="M1059.35,830.7L1059.35,804.3"/>
<path class="l w" d="M1059.35,796.5L1056.8,804.3L1061.9,804.3Z"/>
<path class="l" d="M1050.6,808.2A16.65,6.5 0 1 0 1068.3,808.5"/>
<path class="l w" d="M1062.1,807.3L1068.6,806.2L1067.1,809.5Z"/>
<path class="l w" d="M921.29,834L921.29,784.28A50.61,11.93 0 0 1 1022.51,784.28L1022.51,834"/>
<path class="l" d="M921.29,834A50.61,12.77 0 0 1 1022.51,834"/>
<path class="l" d="M921.29,834A50.61,12.77 0 0 0 929.34,840.91M1022.51,834A50.61,12.77 0 0 1 1014.46,840.91"/>
<path class="l" d="M928.04,828.66A49.53,11.81 0 0 0 929.34,840.18M1015.76,828.66A49.53,11.81 0 0 1 1014.46,840.18"/>
<path d="M929.34,827.09A50.61,12.77 0 0 1 1014.46,827.09L1014.46,845.93A42.56,10.94 0 0 1 929.34,845.93Z" fill="#fff" stroke="none"/>
<path class="l" d="M929.34,827.09A50.61,12.77 0 0 1 1014.46,827.09"/>
<path class="l" d="M929.34,828.03L929.34,845.93"/>
<path class="l" d="M1014.46,828.03L1014.46,845.93"/>
<ellipse class="l" cx="971.9" cy="845.93" rx="42.56" ry="10.94"/>
<ellipse class="l" cx="971.9" cy="846.02" rx="40.36" ry="10.1"/>
<clipPath id="cbu"><path d="M929.34,827.09A50.61,12.77 0 0 1 1014.46,827.09L1014.46,845.93A42.56,10.94 0 0 0 929.34,845.93Z"/></clipPath>
<clipPath id="cbi"><ellipse cx="971.9" cy="846.02" rx="39.96" ry="9.7"/></clipPath>
<clipPath id="cbs"><path d="M929.54,830.59A40.36,10.1 0 0 0 1012.26,830.59L1014.26,830.59L1014.26,861.12L929.54,861.12Z"/></clipPath>
<g clip-path="url(#cbi)">
<path class="l" d="M931.54,830.59A40.36,10.1 0 0 0 1012.26,830.59"/>
</g>
<g clip-path="url(#cbu)" class="h" style="stroke-width:0.95">
<circle r="1.35" transform="matrix(0.22,-0.26,0,1,929.53,831.66)"/>
<circle r="1.35" transform="matrix(0.22,-0.25,0,1,930.35,830.32)"/>
<circle r="1.35" transform="matrix(0.34,-0.24,0,1,931.81,829.02)"/>
<circle r="1.35" transform="matrix(0.45,-0.23,0,1,933.88,827.77)"/>
<circle r="1.35" transform="matrix(0.56,-0.21,0,1,936.53,826.6)"/>
<circle r="1.35" transform="matrix(0.65,-0.19,0,1,939.73,825.52)"/>
<circle r="1.35" transform="matrix(0.74,-0.17,0,1,943.42,824.56)"/>
<circle r="1.35" transform="matrix(0.82,-0.15,0,1,947.55,823.71)"/>
<circle r="1.35" transform="matrix(0.88,-0.12,0,1,952.05,823.01)"/>
<circle r="1.35" transform="matrix(0.94,-0.09,0,1,956.86,822.45)"/>
<circle r="1.35" transform="matrix(0.97,-0.06,0,1,961.89,822.05)"/>
<circle r="1.35" transform="matrix(0.99,-0.03,0,1,967.08,821.82)"/>
<circle r="1.35" transform="matrix(1,0,0,1,972.35,821.75)"/>
<circle r="1.35" transform="matrix(0.99,0.03,0,1,977.6,821.84)"/>
<circle r="1.35" transform="matrix(0.97,0.07,0,1,982.77,822.11)"/>
<circle r="1.35" transform="matrix(0.93,0.1,0,1,987.77,822.54)"/>
<circle r="1.35" transform="matrix(0.87,0.12,0,1,992.53,823.12)"/>
<circle r="1.35" transform="matrix(0.81,0.15,0,1,996.98,823.85)"/>
<circle r="1.35" transform="matrix(0.73,0.18,0,1,1001.03,824.71)"/>
<circle r="1.35" transform="matrix(0.64,0.2,0,1,1004.65,825.7)"/>
<circle r="1.35" transform="matrix(0.54,0.22,0,1,1007.76,826.79)"/>
<circle r="1.35" transform="matrix(0.43,0.23,0,1,1010.31,827.98)"/>
<circle r="1.35" transform="matrix(0.32,0.24,0,1,1012.28,829.24)"/>
<circle r="1.35" transform="matrix(0.22,0.25,0,1,1013.64,830.55)"/>
<circle r="1.35" transform="matrix(0.22,0.26,0,1,1014.35,831.89)"/>
<circle r="1.35" transform="matrix(0.22,-0.26,0,1,929.53,836.48)"/>
<circle r="1.35" transform="matrix(0.22,-0.25,0,1,930.35,835.14)"/>
<circle r="1.35" transform="matrix(0.34,-0.24,0,1,931.81,833.84)"/>
<circle r="1.35" transform="matrix(0.45,-0.23,0,1,933.88,832.59)"/>
<circle r="1.35" transform="matrix(0.56,-0.21,0,1,936.53,831.42)"/>
<circle r="1.35" transform="matrix(0.65,-0.19,0,1,939.73,830.34)"/>
<circle r="1.35" transform="matrix(0.74,-0.17,0,1,943.42,829.37)"/>
<circle r="1.35" transform="matrix(0.82,-0.15,0,1,947.55,828.53)"/>
<circle r="1.35" transform="matrix(0.88,-0.12,0,1,952.05,827.83)"/>
<circle r="1.35" transform="matrix(0.94,-0.09,0,1,956.86,827.27)"/>
<circle r="1.35" transform="matrix(0.97,-0.06,0,1,961.89,826.87)"/>
<circle r="1.35" transform="matrix(0.99,-0.03,0,1,967.08,826.63)"/>
<circle r="1.35" transform="matrix(1,0,0,1,972.35,826.56)"/>
<circle r="1.35" transform="matrix(0.99,0.03,0,1,977.6,826.66)"/>
<circle r="1.35" transform="matrix(0.97,0.07,0,1,982.77,826.93)"/>
<circle r="1.35" transform="matrix(0.93,0.1,0,1,987.77,827.35)"/>
<circle r="1.35" transform="matrix(0.87,0.12,0,1,992.53,827.94)"/>
<circle r="1.35" transform="matrix(0.81,0.15,0,1,996.98,828.66)"/>
<circle r="1.35" transform="matrix(0.73,0.18,0,1,1001.03,829.53)"/>
<circle r="1.35" transform="matrix(0.64,0.2,0,1,1004.65,830.52)"/>
<circle r="1.35" transform="matrix(0.54,0.22,0,1,1007.76,831.61)"/>
<circle r="1.35" transform="matrix(0.43,0.23,0,1,1010.31,832.8)"/>
<circle r="1.35" transform="matrix(0.32,0.24,0,1,1012.28,834.05)"/>
<circle r="1.35" transform="matrix(0.22,0.25,0,1,1013.64,835.36)"/>
<circle r="1.35" transform="matrix(0.22,0.26,0,1,1014.35,836.71)"/>
<circle r="1.35" transform="matrix(0.22,-0.26,0,1,929.53,841.34)"/>
<circle r="1.35" transform="matrix(0.22,-0.25,0,1,930.35,840)"/>
<circle r="1.35" transform="matrix(0.34,-0.24,0,1,931.81,838.7)"/>
<circle r="1.35" transform="matrix(0.45,-0.23,0,1,933.88,837.45)"/>
<circle r="1.35" transform="matrix(0.56,-0.21,0,1,936.53,836.28)"/>
<circle r="1.35" transform="matrix(0.65,-0.19,0,1,939.73,835.21)"/>
<circle r="1.35" transform="matrix(0.74,-0.17,0,1,943.42,834.24)"/>
<circle r="1.35" transform="matrix(0.82,-0.15,0,1,947.55,833.4)"/>
<circle r="1.35" transform="matrix(0.88,-0.12,0,1,952.05,832.69)"/>
<circle r="1.35" transform="matrix(0.94,-0.09,0,1,956.86,832.13)"/>
<circle r="1.35" transform="matrix(0.97,-0.06,0,1,961.89,831.73)"/>
<circle r="1.35" transform="matrix(0.99,-0.03,0,1,967.08,831.5)"/>
<circle r="1.35" transform="matrix(1,0,0,1,972.35,831.43)"/>
<circle r="1.35" transform="matrix(0.99,0.03,0,1,977.6,831.53)"/>
<circle r="1.35" transform="matrix(0.97,0.07,0,1,982.77,831.79)"/>
<circle r="1.35" transform="matrix(0.93,0.1,0,1,987.77,832.22)"/>
<circle r="1.35" transform="matrix(0.87,0.12,0,1,992.53,832.8)"/>
<circle r="1.35" transform="matrix(0.81,0.15,0,1,996.98,833.53)"/>
<circle r="1.35" transform="matrix(0.73,0.18,0,1,1001.03,834.39)"/>
<circle r="1.35" transform="matrix(0.64,0.2,0,1,1004.65,835.38)"/>
<circle r="1.35" transform="matrix(0.54,0.22,0,1,1007.76,836.48)"/>
<circle r="1.35" transform="matrix(0.43,0.23,0,1,1010.31,837.66)"/>
<circle r="1.35" transform="matrix(0.32,0.24,0,1,1012.28,838.92)"/>
<circle r="1.35" transform="matrix(0.22,0.25,0,1,1013.64,840.23)"/>
<circle r="1.35" transform="matrix(0.22,0.26,0,1,1014.35,841.57)"/>
</g>
<g clip-path="url(#cbi)"><g clip-path="url(#cbs)" class="h" style="stroke-width:0.95">
<circle r="1.35" transform="matrix(0.22,0.25,0,1,931.6,833.89)"/>
<circle r="1.35" transform="matrix(0.22,0.25,0,1,932.18,835.13)"/>
<circle r="1.35" transform="matrix(0.3,0.24,0,1,933.36,836.35)"/>
<circle r="1.35" transform="matrix(0.41,0.23,0,1,935.14,837.52)"/>
<circle r="1.35" transform="matrix(0.52,0.21,0,1,937.49,838.62)"/>
<circle r="1.35" transform="matrix(0.62,0.2,0,1,940.36,839.65)"/>
<circle r="1.35" transform="matrix(0.72,0.17,0,1,943.71,840.58)"/>
<circle r="1.35" transform="matrix(0.8,0.15,0,1,947.5,841.39)"/>
<circle r="1.35" transform="matrix(0.87,0.13,0,1,951.66,842.09)"/>
<circle r="1.35" transform="matrix(0.92,0.1,0,1,956.13,842.64)"/>
<circle r="1.35" transform="matrix(0.96,0.07,0,1,960.84,843.06)"/>
<circle r="1.35" transform="matrix(0.99,0.04,0,1,965.73,843.33)"/>
<circle r="1.35" transform="matrix(1,0.01,0,1,970.7,843.44)"/>
<circle r="1.35" transform="matrix(1,-0.02,0,1,975.7,843.4)"/>
<circle r="1.35" transform="matrix(0.98,-0.05,0,1,980.64,843.21)"/>
<circle r="1.35" transform="matrix(0.94,-0.08,0,1,985.44,842.86)"/>
<circle r="1.35" transform="matrix(0.89,-0.11,0,1,990.04,842.37)"/>
<circle r="1.35" transform="matrix(0.83,-0.14,0,1,994.35,841.74)"/>
<circle r="1.35" transform="matrix(0.76,-0.16,0,1,998.33,840.98)"/>
<circle r="1.35" transform="matrix(0.67,-0.19,0,1,1001.9,840.1)"/>
<circle r="1.35" transform="matrix(0.57,-0.21,0,1,1005,839.13)"/>
<circle r="1.35" transform="matrix(0.47,-0.22,0,1,1007.6,838.06)"/>
<circle r="1.35" transform="matrix(0.35,-0.23,0,1,1009.66,836.92)"/>
<circle r="1.35" transform="matrix(0.24,-0.24,0,1,1011.13,835.72)"/>
<circle r="1.35" transform="matrix(0.22,-0.25,0,1,1012,834.49)"/>
<circle r="1.35" transform="matrix(0.22,0.25,0,1,931.6,838.71)"/>
<circle r="1.35" transform="matrix(0.22,0.25,0,1,932.18,839.95)"/>
<circle r="1.35" transform="matrix(0.3,0.24,0,1,933.36,841.17)"/>
<circle r="1.35" transform="matrix(0.41,0.23,0,1,935.14,842.34)"/>
<circle r="1.35" transform="matrix(0.52,0.21,0,1,937.49,843.44)"/>
<circle r="1.35" transform="matrix(0.62,0.2,0,1,940.36,844.47)"/>
<circle r="1.35" transform="matrix(0.72,0.17,0,1,943.71,845.39)"/>
<circle r="1.35" transform="matrix(0.8,0.15,0,1,947.5,846.21)"/>
<circle r="1.35" transform="matrix(0.87,0.13,0,1,951.66,846.9)"/>
<circle r="1.35" transform="matrix(0.92,0.1,0,1,956.13,847.46)"/>
<circle r="1.35" transform="matrix(0.96,0.07,0,1,960.84,847.88)"/>
<circle r="1.35" transform="matrix(0.99,0.04,0,1,965.73,848.15)"/>
<circle r="1.35" transform="matrix(1,0.01,0,1,970.7,848.26)"/>
<circle r="1.35" transform="matrix(1,-0.02,0,1,975.7,848.22)"/>
<circle r="1.35" transform="matrix(0.98,-0.05,0,1,980.64,848.03)"/>
<circle r="1.35" transform="matrix(0.94,-0.08,0,1,985.44,847.68)"/>
<circle r="1.35" transform="matrix(0.89,-0.11,0,1,990.04,847.19)"/>
<circle r="1.35" transform="matrix(0.83,-0.14,0,1,994.35,846.56)"/>
<circle r="1.35" transform="matrix(0.76,-0.16,0,1,998.33,845.8)"/>
<circle r="1.35" transform="matrix(0.67,-0.19,0,1,1001.9,844.92)"/>
<circle r="1.35" transform="matrix(0.57,-0.21,0,1,1005,843.94)"/>
<circle r="1.35" transform="matrix(0.47,-0.22,0,1,1007.6,842.87)"/>
<circle r="1.35" transform="matrix(0.35,-0.23,0,1,1009.66,841.73)"/>
<circle r="1.35" transform="matrix(0.24,-0.24,0,1,1011.13,840.54)"/>
<circle r="1.35" transform="matrix(0.22,-0.25,0,1,1012,839.31)"/>
<circle r="1.35" transform="matrix(0.22,0.25,0,1,931.6,843.57)"/>
<circle r="1.35" transform="matrix(0.22,0.25,0,1,932.18,844.82)"/>
<circle r="1.35" transform="matrix(0.3,0.24,0,1,933.36,846.03)"/>
<circle r="1.35" transform="matrix(0.41,0.23,0,1,935.14,847.2)"/>
<circle r="1.35" transform="matrix(0.52,0.21,0,1,937.49,848.31)"/>
<circle r="1.35" transform="matrix(0.62,0.2,0,1,940.36,849.33)"/>
<circle r="1.35" transform="matrix(0.72,0.17,0,1,943.71,850.26)"/>
<circle r="1.35" transform="matrix(0.8,0.15,0,1,947.5,851.07)"/>
<circle r="1.35" transform="matrix(0.87,0.13,0,1,951.66,851.77)"/>
<circle r="1.35" transform="matrix(0.92,0.1,0,1,956.13,852.33)"/>
<circle r="1.35" transform="matrix(0.96,0.07,0,1,960.84,852.74)"/>
<circle r="1.35" transform="matrix(0.99,0.04,0,1,965.73,853.01)"/>
<circle r="1.35" transform="matrix(1,0.01,0,1,970.7,853.12)"/>
<circle r="1.35" transform="matrix(1,-0.02,0,1,975.7,853.08)"/>
<circle r="1.35" transform="matrix(0.98,-0.05,0,1,980.64,852.89)"/>
<circle r="1.35" transform="matrix(0.94,-0.08,0,1,985.44,852.54)"/>
<circle r="1.35" transform="matrix(0.89,-0.11,0,1,990.04,852.05)"/>
<circle r="1.35" transform="matrix(0.83,-0.14,0,1,994.35,851.42)"/>
<circle r="1.35" transform="matrix(0.76,-0.16,0,1,998.33,850.66)"/>
<circle r="1.35" transform="matrix(0.67,-0.19,0,1,1001.9,849.79)"/>
<circle r="1.35" transform="matrix(0.57,-0.21,0,1,1005,848.81)"/>
<circle r="1.35" transform="matrix(0.47,-0.22,0,1,1007.6,847.74)"/>
<circle r="1.35" transform="matrix(0.35,-0.23,0,1,1009.66,846.6)"/>
<circle r="1.35" transform="matrix(0.24,-0.24,0,1,1011.13,845.4)"/>
<circle r="1.35" transform="matrix(0.22,-0.25,0,1,1012,844.17)"/>
</g></g>
</svg>
</body></html>
